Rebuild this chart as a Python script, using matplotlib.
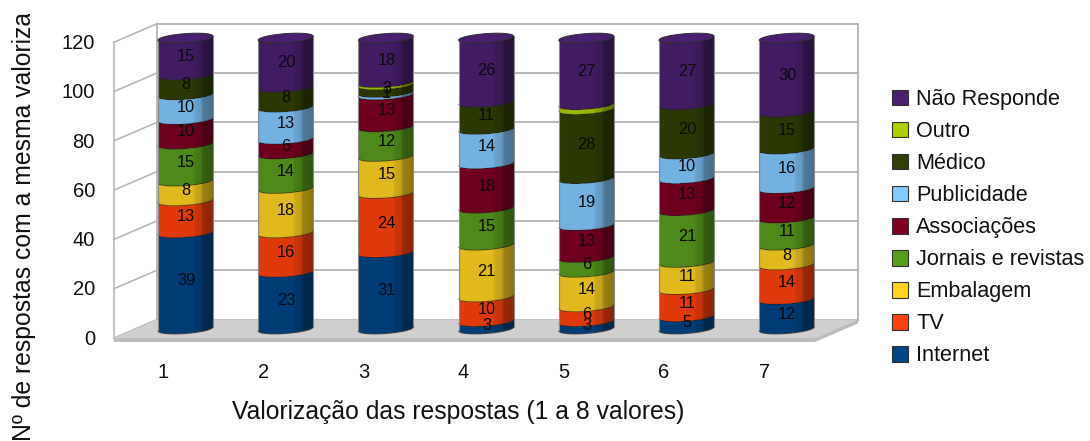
# stacked cylinders with a 3D look, drawn on a plain matplotlib axes
import matplotlib
matplotlib.use('Agg')
import matplotlib.pyplot as plt
import numpy as np
from matplotlib.patches import Polygon, Patch
from matplotlib.transforms import Bbox

plt.rcParams['font.family'] = ['Liberation Sans', 'DejaVu Sans']

# the data
categories = ['1', '2', '3', '4', '5', '6', '7']
series_names = ['Internet', 'TV', 'Embalagem', 'Jornais e revistas', 'Associações',
                'Publicidade', 'Médico', 'Outro', 'Não Responde']
internet = [39, 23, 31, 3, 3, 5, 12]
tv = [13, 16, 24, 10, 6, 11, 14]
embalagem = [8, 18, 15, 21, 14, 11, 8]
jornais = [15, 14, 12, 15, 6, 21, 11]
associacoes = [10, 6, 13, 18, 13, 13, 12]
publicidade = [10, 13, 1, 14, 19, 10, 16]
medico = [8, 8, 3, 11, 28, 20, 15]
outro = [0, 0, 1, 0, 2, 0, 0]
nao_responde = [15, 20, 18, 26, 27, 27, 30]
y_ticks = [0, 20, 40, 60, 80, 100, 120]

series = [internet, tv, embalagem, jornais, associacoes, publicidade, medico, outro, nao_responde]
colors = ['#004586', '#ff420e', '#ffd320', '#579d1c', '#7e0021',
          '#83caff', '#314004', '#aecf00', '#4b1f6f']
show_label = [True, True, True, True, True, True, True, False, True]

W, H = 1090, 441
PX_X = 100.2     # pixels per category
PX_Y = 2.465     # pixels per value unit
X0_PX = 185.5    # pixel of category 1
Y0_PX = 329.0    # pixel of value 0 on the cylinder axis

fig = plt.figure(figsize=(W / 100, H / 100), dpi=100)
ax = fig.add_axes([0, 0, 1, 1])
ax.set_xlim(1 - X0_PX / PX_X, 1 + (W - X0_PX) / PX_X)
ax.set_ylim(-(H - Y0_PX) / PX_Y, Y0_PX / PX_Y)
ax.axis('off')

# box depth and cylinder shape, in data units
back_dy = 9.5 / PX_Y
front_dy = -9.0 / PX_Y
half_w = 27.5 / PX_X
tilt = 2.0 / PX_Y
ell = 4.5 / PX_Y

grid_color = '#b3b3b3'
left_back = 1 - half_w - 1 / PX_X
right_back = left_back + 701 / PX_X
depth_x = 43 / PX_X
ymin, ymax = y_ticks[0], y_ticks[-1]

# back and side walls
for t in y_ticks:
    ax.plot([left_back, right_back], [t + back_dy] * 2, color=grid_color, lw=1.3, zorder=1)
    ax.plot([left_back - depth_x, left_back], [t + front_dy, t + back_dy], color=grid_color, lw=1.1, zorder=1)
ax.plot([left_back] * 2, [ymin + back_dy, ymax + back_dy], color=grid_color, lw=1.3, zorder=1)
ax.plot([right_back] * 2, [ymin + back_dy, ymax + back_dy], color=grid_color, lw=1.3, zorder=1)
ax.plot([left_back - depth_x] * 2, [ymin + front_dy, ymax + front_dy], color=grid_color, lw=1.1, zorder=1)

# floor
floor = [(left_back - depth_x, front_dy), (left_back, back_dy), (right_back, back_dy), (right_back - depth_x, front_dy)]
ax.add_patch(Polygon(floor, closed=True, fc='#cfcfcf', ec='none', zorder=2))
strip = 4.0 / PX_Y
edge = [(left_back - depth_x, front_dy), (right_back - depth_x, front_dy),
        (right_back, back_dy), (right_back, back_dy - strip),
        (right_back - depth_x, front_dy - strip), (left_back - depth_x, front_dy - strip)]
ax.add_patch(Polygon(edge, closed=True, fc='#bcbcbc', ec='none', zorder=2))

# horizontal shading across a cylinder, t runs from -1 to 1
ts = np.linspace(-1, 1, 61)
tc = (ts[:-1] + ts[1:]) / 2
shade = np.interp(tc, [-1, -0.9, 0.25, 0.35, 0.55, 0.65, 1], [0.84, 0.88, 0.88, 0.8, 0.76, 0.6, 0.55])


# level of the near edge of a disc across the cylinder: right side sits higher
def arc(t, level, front=1):
    return level + tilt * t - front * ell * np.sqrt(1 - t ** 2)


for i in range(len(categories)):
    xc = i + 1
    bottom = 0
    for vals, col, lab in zip(series, colors, show_label):
        v = vals[i]
        if v == 0:
            continue
        top = bottom + v
        X = np.vstack([xc + half_w * ts, xc + half_w * ts])
        Y = np.vstack([arc(ts, bottom), arc(ts, top)])
        rgb = np.array(matplotlib.colors.to_rgb(col))
        C = (shade[:, None] * rgb)[None, :, :]
        ax.pcolormesh(X, Y, C, shading='flat', antialiased=False, zorder=5)
        ax.plot(X[1], Y[1], color='#222222', lw=0.6, alpha=0.7, zorder=6)
        if lab:
            ax.text(xc + 0.5 / PX_X, bottom + v / 2, str(v), ha='center', va='center',
                    fontsize=11.8, color='#0a0a0a', zorder=8)
        bottom = top
    # top cap and outline
    cap_x = np.concatenate([xc + half_w * ts, xc + half_w * ts[::-1]])
    cap_y = np.concatenate([arc(ts, bottom), arc(ts[::-1], bottom, front=-1)])
    ax.add_patch(Polygon(np.column_stack([cap_x, cap_y]), closed=True, fc='#4b1f6f', ec='#2c2c2c', lw=0.7, zorder=7))
    ax.plot([xc - half_w] * 2, [arc(-1.0, 0), arc(-1.0, bottom)], color='#8a8a8a', lw=0.8, zorder=6)
    ax.plot([xc + half_w] * 2, [arc(1.0, 0), arc(1.0, bottom)], color='#8a8a8a', lw=0.8, zorder=6)
    ax.plot(xc + half_w * ts, arc(ts, 0), color='#444444', lw=0.7, zorder=6)

# tick labels and titles
for t in y_ticks:
    ax.text(left_back - depth_x - 19 / PX_X, t + front_dy - 0.5, str(t), ha='right', va='center', fontsize=14.5, color='#111111')
for i, c in enumerate(categories):
    ax.text(i + 1 - 22.5 / PX_X, -(373 - Y0_PX) / PX_Y, c, ha='center', va='center', fontsize=14.5, color='#111111')
ax.text(1 + (458 - X0_PX) / PX_X, -(412 - Y0_PX) / PX_Y, 'Valorização das respostas (1 a 8 valores)',
        ha='center', va='center', fontsize=17.8, color='#111111')
ylab = ax.text(1 + (24 - X0_PX) / PX_X, -(441 - Y0_PX) / PX_Y, 'Nº de respostas com a mesma valorização',
               rotation=90, ha='center', va='bottom', fontsize=17.8, color='#111111')
# the title runs past the top of its frame, so it stops 14 px below the figure edge
ylab.set_clip_on(True)
ylab.set_clip_box(Bbox([[0, 0], [W, H - 14]]))

# legend, top entry first
handles = [Patch(fc=c, ec='#333333', lw=0.8, label=n) for c, n in zip(colors[::-1], series_names[::-1])]
ax.legend(handles=handles, loc='upper left', bbox_to_anchor=(892 / W, 1 - 89 / H), frameon=False,
          fontsize=15.6, handlelength=0.74, handleheight=0.74, handletextpad=0.38,
          labelspacing=0.51, borderpad=0, borderaxespad=0, labelcolor='#111111')

fig.savefig('out.png', dpi=100)
